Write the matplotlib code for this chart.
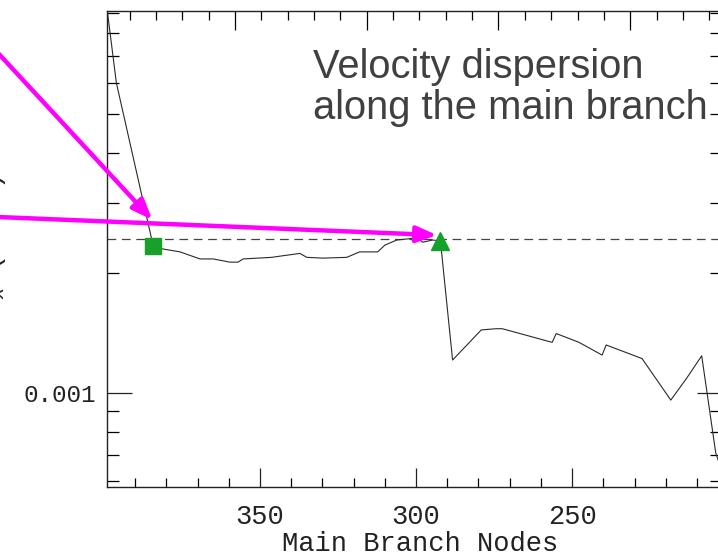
import matplotlib
matplotlib.use("Agg")
import matplotlib.pyplot as plt
import numpy as np
from matplotlib.ticker import FixedLocator, NullFormatter, LogLocator, MultipleLocator

# ---- data ----
nodes = [398.9, 396.0, 384.2, 381.3, 375.6, 369.2, 365.0, 359.6, 357.0, 355.4,
         346.2, 342.7, 337.2, 335.0, 329.9, 322.2, 318.1, 312.3, 310.0, 306.2,
         299.7, 297.9, 294.7, 292.2, 288.3, 279.1, 274.3, 272.4, 256.4, 255.1,
         247.8, 240.4, 239.1, 227.6, 218.4, 213.3, 208.5, 204.0, 201.5]
sigma = [9.09e-3, 6.0e-3, 2.34e-3, 2.30e-3, 2.26e-3, 2.17e-3, 2.17e-3, 2.13e-3, 2.13e-3, 2.17e-3,
         2.19e-3, 2.21e-3, 2.24e-3, 2.19e-3, 2.18e-3, 2.19e-3, 2.26e-3, 2.26e-3, 2.35e-3, 2.42e-3,
         2.45e-3, 2.39e-3, 2.42e-3, 2.41e-3, 1.21e-3, 1.44e-3, 1.45e-3, 1.45e-3, 1.34e-3, 1.41e-3,
         1.34e-3, 1.245e-3, 1.32e-3, 1.22e-3, 0.96e-3, 1.09e-3, 1.24e-3, 0.707e-3, 0.62e-3]
square_node = [384.2]
square_sigma = [2.34e-3]
triangle_node = [292.2]
triangle_sigma = [2.41e-3]
ref_level = 2.44e-3

arrow_tips = [(384.5, 2.72e-3), (293.3, 2.49e-3)]      # data coords
arrow_starts = [(-2, 505), (-2, 341)]                   # figure pixels

x_ticks = [350, 300, 250]
x_tick_labels = ["350", "300", "250"]
y_major = [1e-3]
y_major_labels = ["0.001"]

title_text = "Velocity dispersion\nalong the main branch"
xlabel = "Main Branch Nodes"
ylabel = r"σ$_x$ (km/s)"

# ---- figure ----
W, H = 718, 558
fig = plt.figure(figsize=(W / 100, H / 100), dpi=100)
L, R, T, B = 107, 722, 11, 487
ax = fig.add_axes([L / W, 1 - B / H, (R - L) / W, (B - T) / H])

mono = "Liberation Mono"
ink = "#222222"
fs = 19.5

ax.plot(nodes, sigma, color="#2a2a2a", lw=0.8, zorder=3)
ax.axhline(ref_level, color="#444444", lw=0.9, dashes=(7, 4.5), zorder=2)
ax.plot(square_node, square_sigma, ls="none", marker="s", ms=12.2,
        color="#17a02a", mec="#17a02a", zorder=5)
ax.plot(triangle_node, triangle_sigma, ls="none", marker="^", ms=13,
        color="#17a02a", mec="#17a02a", zorder=5)

ax.set_yscale("log")
ax.set_xlim(399, 202)
ax.set_ylim(5.81e-4, 9.09e-3)

ax.xaxis.set_major_locator(FixedLocator(x_ticks))
ax.set_xticklabels(x_tick_labels)
ax.xaxis.set_minor_locator(MultipleLocator(10))
ax.yaxis.set_major_locator(FixedLocator(y_major))
ax.set_yticklabels(y_major_labels)
ax.yaxis.set_minor_locator(LogLocator(base=10, subs=np.arange(2, 10)))
ax.yaxis.set_minor_formatter(NullFormatter())

ax.tick_params(axis="x", which="major", direction="in", length=13.5, width=0.9,
               top=False, bottom=True, pad=12, labelsize=fs, colors=ink)
ax.tick_params(axis="x", which="minor", direction="in", length=6.5, width=0.9,
               top=False, bottom=True)
ax.tick_params(axis="y", which="major", direction="in", length=18, width=0.9,
               left=True, right=True, pad=8, labelsize=17.5, colors=ink)
ax.tick_params(axis="y", which="minor", direction="in", length=8.5, width=0.9,
               left=True, right=True)
for lab in ax.get_xticklabels() + ax.get_yticklabels():
    lab.set_family(mono)
for s in ax.spines.values():
    s.set_linewidth(1.0)
    s.set_color(ink)

# top axis: unlabeled secondary scale
top = ax.twiny()
top.set_xlim(ax.get_xlim())
top_major = 358.0 + 42.2 * np.arange(1, -5, -1)
top.xaxis.set_major_locator(FixedLocator(top_major))
top.xaxis.set_minor_locator(FixedLocator(358.0 + 8.44 * np.arange(6, -20, -1)))
top.xaxis.set_major_formatter(NullFormatter())
top.tick_params(axis="x", which="major", direction="in", length=13.5, width=0.9, pad=2)
top.tick_params(axis="x", which="minor", direction="in", length=6.5, width=0.9)
for s in top.spines.values():
    s.set_visible(False)

ax.set_xlabel(xlabel, family=mono, fontsize=fs, color=ink)
ax.xaxis.set_label_coords((420 - L) / (R - L), -0.093)

fig.text(8 / W, 1 - 245 / H, ylabel, rotation=90, ha="right", va="center",
         family=mono, fontsize=fs, color=ink)

fig.text(313 / W, 1 - 48 / H, title_text, ha="left", va="top",
         family="Liberation Sans", fontsize=28.7, color="#404040", linespacing=1.09)

for (tx, ty), (sx, sy) in zip(arrow_tips, arrow_starts):
    ax.annotate("", xy=(tx, ty), xycoords="data",
                xytext=(sx, sy), textcoords="figure pixels",
                arrowprops=dict(arrowstyle="-|>,head_length=0.55,head_width=0.22",
                                color="#ff00ff", lw=3.2, mutation_scale=22,
                                shrinkA=0, shrinkB=0),
                annotation_clip=False, zorder=6)

fig.savefig("out.png", dpi=100)
